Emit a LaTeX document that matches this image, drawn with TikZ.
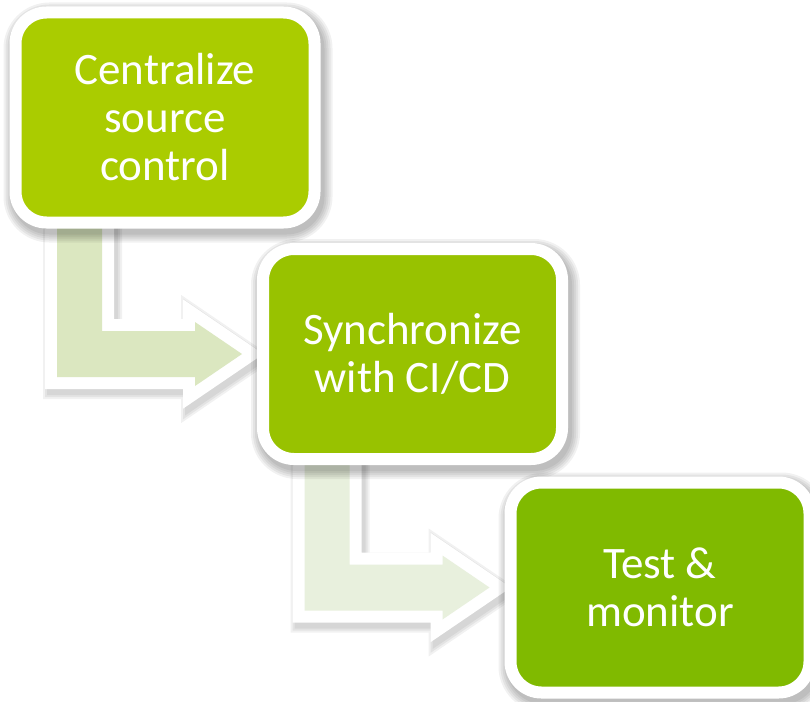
\documentclass[tikz,border=0pt]{standalone}
\usepackage{fontspec}
\setmainfont{Carlito}
\usetikzlibrary{calc}
\pgfdeclarelayer{back}
\pgfsetlayers{back,main}
\definecolor{gA}{RGB}{170,204,0}
\definecolor{gB}{RGB}{152,194,0}
\definecolor{gC}{RGB}{128,186,0}
\definecolor{arA}{RGB}{219,231,192}
\definecolor{arB}{RGB}{232,240,221}
\tikzset{
  shlayer/.style={preaction={draw=black, fill=none, draw opacity=.055, line width=#1,
      transform canvas={xshift=3pt,yshift=-5pt}}},
  box/.style={rounded corners=31pt, minimum width=299pt, minimum height=210pt,
      inner sep=0pt, outer sep=0pt, draw=white, line width=12pt, text=white,
      align=center, font=\fontsize{45}{48}\selectfont,
      shlayer=14pt, shlayer=18pt, shlayer=22pt, shlayer=26pt, shlayer=30pt},
  bent/.style={draw=white, line width=24pt, line join=miter,
      shlayer=26pt, shlayer=30pt, shlayer=34pt,
      postaction={fill=#1, draw=none}},
}
\newcommand\bentarrow[3]{%
  \path[bent=#3] let \p1=(#1.south west), \p2=(#2.west) in
    (\x1+41.5pt, \y1) -- (\x1+41.5pt, \y2-23pt) -- (\x2-68pt, \y2-23pt)
    -- (\x2-68pt, \y2-32pt) -- (\x2-21pt, \y2) -- (\x2-68pt, \y2+32pt)
    -- (\x2-68pt, \y2+23pt) -- (\x1+86.5pt, \y2+23pt) -- (\x1+86.5pt, \y1) -- cycle;
}
\begin{document}
\begin{tikzpicture}[x=1pt,y=1pt]
  \useasboundingbox (0,0) rectangle (810,-701);
  \clip (0,0) rectangle (810,-701);
  \node[box, fill=gA] (b1) at (165,-117.5) {Centralize\\source\\control};
  \node[box, fill=gB] (b2) at (412.5,-354) {Synchronize\\with CI/CD};
  \node[box, fill=gC] (b3) at (660,-587.5) {Test \&\\monitor};
  \begin{pgfonlayer}{back}
    \fill[white] (0,0) rectangle (810,-701);
    \bentarrow{b1}{b2}{arA}
    \bentarrow{b2}{b3}{arB}
  \end{pgfonlayer}
\end{tikzpicture}
\end{document}
